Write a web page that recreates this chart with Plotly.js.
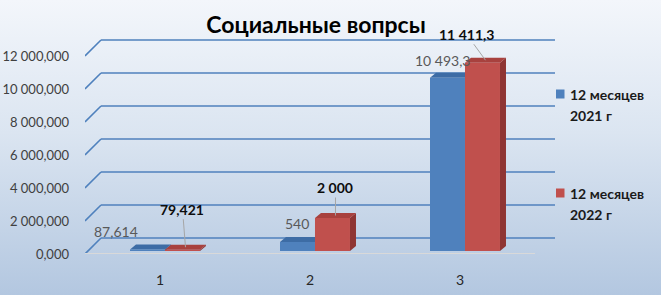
<!DOCTYPE html>
<html>
<head>
<meta charset="utf-8">
<script src="https://cdn.plot.ly/plotly-3.0.1.min.js"></script>
<style>
  html, body { margin: 0; padding: 0; }
  #chart { width: 661px; height: 295px; background: linear-gradient(to bottom, #f3f6fb 0%, #dbe5f1 45%, #b3c7e0 100%); }
</style>
</head>
<body>
<div id="chart"></div>
<script>
// ---- data ----
const categories = ['1', '2', '3'];
const seriesNames = ['12 месяцев<br>2021 г', '12 месяцев<br>2022 г'];
const values2021 = [87614, 540000, 10493300];
const values2022 = [79421, 2000000, 11411300];
const labels2021 = ['87,614', '540', '10 493,3'];
const labels2022 = ['79,421', '2 000', '11 411,3'];
const yTickVals = [0, 2000000, 4000000, 6000000, 8000000, 10000000, 12000000];
const yTickText = ['0,000', '2 000,000', '4 000,000', '6 000,000', '8 000,000', '10 000,000', '12 000,000'];

// ---- geometry / style ----
const W = 661, H = 295;
const M = {l: 85, r: 101, t: 28, b: 41};
const plotW = W - M.l - M.r, plotH = H - M.t - M.b;
const xRange = [-0.5, 2.6667];
const pxPerX = plotW / (xRange[1] - xRange[0]);
const pxPerY = 16.5 / 1e6;
const yMax = plotH / pxPerY;
const barLift = 3; // px the bar plane sits above the axis plane
const y2Max = (plotH - barLift) / pxPerY;
const barW = 0.2333;
const offsets = [-0.2, 0.0333];
const depthX = 6 / pxPerX, depthY = 5 / pxPerY;
const colors = ['#4f81bd', '#c0504d'];
const topColors = ['#3d6ca5', '#a8413e'];
const sideColors = ['#375f8f', '#8f3533'];
const gridColor = '#4f81bd';
const font = 'Lato, "Open Sans", "DejaVu Sans", sans-serif';
const xs = categories.map((c, i) => i);

const allValues = [values2021, values2022];

const traces = allValues.map((vals, s) => ({
  type: 'bar', x: xs, y: vals, name: seriesNames[s],
  width: barW, offset: offsets[s],
  marker: {color: colors[s], line: {width: 0}},
  xaxis: 'x', yaxis: 'y2', showlegend: false, hoverinfo: 'skip'
}));

const shapes = [];
// back-wall gridlines with perspective slant
yTickVals.forEach(v => {
  shapes.push({type: 'line', layer: 'below', xref: 'x', yref: 'y', xsizemode: 'pixel', ysizemode: 'pixel',
    xanchor: xRange[0], yanchor: v, x0: 0, x1: 16, y0: 0, y1: 16, line: {color: gridColor, width: 1.6}});
  shapes.push({type: 'line', layer: 'below', xref: 'x', yref: 'y', xsizemode: 'pixel', ysizemode: 'pixel',
    xanchor: xRange[0], yanchor: v, x0: 16, x1: 470, y0: 16, y1: 16, line: {color: gridColor, width: 1.6}});
});
// floor front edge
shapes.push({type: 'line', layer: 'below', xref: 'x', yref: 'y', x0: -0.5, x1: 2.5, y0: 0, y1: 0,
  line: {color: '#d9d9d9', width: 2}});
// 3D faces of bars
allValues.forEach((vals, s) => {
  vals.forEach((v, i) => {
    const xl = xs[i] + offsets[s], xr = xl + barW;
    shapes.push({type: 'path', layer: 'below', xref: 'x', yref: 'y2', line: {width: 0}, fillcolor: sideColors[s],
      path: `M${xr},0 L${xr + depthX},${depthY} L${xr + depthX},${v + depthY} L${xr},${v} Z`});
    shapes.push({type: 'path', layer: 'below', xref: 'x', yref: 'y2', line: {width: 0}, fillcolor: topColors[s],
      path: `M${xl},${v} L${xl + depthX},${v + depthY} L${xr + depthX},${v + depthY} L${xr},${v} Z`});
  });
});

const annotations = [];
// 2021 labels (grey, no leader)
const shifts2021 = [[-32, 18], [-1, 19], [-5, 17]];
values2021.forEach((v, i) => {
  annotations.push({xref: 'x', yref: 'y2', x: xs[i] + offsets[0] + barW / 2, y: v, text: labels2021[i],
    showarrow: false, xshift: shifts2021[i][0], yshift: shifts2021[i][1],
    font: {family: font, size: 14, color: '#595959'}});
});
// 2022 labels (bold, with leader lines)
const arrows2022 = [[-3, -38], [0, -28], [-19, -26]];
values2022.forEach((v, i) => {
  annotations.push({xref: 'x', yref: 'y2', x: xs[i] + offsets[1] + barW / 2 + depthX / 2, y: v + depthY / 2,
    text: '<b>' + labels2022[i] + '</b>', showarrow: true, arrowhead: 0, arrowwidth: 1, arrowcolor: '#a6a6a6',
    standoff: 0, ax: arrows2022[i][0], ay: arrows2022[i][1],
    font: {family: font, size: 14, color: '#0d0d0d'}});
});
// legend (built from series names)
const legendTop = [94, 193];
seriesNames.forEach((name, s) => {
  const cy = legendTop[s];
  shapes.push({type: 'rect', xref: 'paper', yref: 'paper', line: {width: 0}, fillcolor: colors[s],
    x0: (556 - M.l) / plotW, x1: (564.5 - M.l) / plotW,
    y0: (H - M.b - (cy + 4.5)) / plotH, y1: (H - M.b - (cy - 4.5)) / plotH});
  name.split('<br>').forEach((line, k) => {
    annotations.push({xref: 'paper', yref: 'paper', x: (568 - M.l) / plotW, y: (H - M.b - (cy + k * 21)) / plotH,
      xanchor: 'left', yanchor: 'middle', showarrow: false, text: '<b>' + line + '</b>',
      font: {family: font, size: 14, color: '#1a1a1a'}});
  });
});

const layout = {
  width: W, height: H,
  margin: M,
  paper_bgcolor: 'rgba(0,0,0,0)', plot_bgcolor: 'rgba(0,0,0,0)',
  title: {text: '<b>Социальные вопрсы</b>', font: {family: font, size: 23, color: '#000'},
    xref: 'paper', x: (316 - M.l) / plotW, xanchor: 'center', yref: 'container', y: 1 - 25 / H, yanchor: 'middle'},
  showlegend: false,
  barmode: 'group',
  xaxis: {type: 'linear', range: xRange, tickvals: xs, ticktext: categories, showgrid: false, zeroline: false,
    showline: false, ticks: '', ticklabelstandoff: 16, tickfont: {family: font, size: 14, color: '#262626'},
    fixedrange: true},
  yaxis: {range: [0, yMax], tickvals: yTickVals, ticktext: yTickText, showgrid: false, zeroline: false,
    showline: false, ticks: '', ticklabelstandoff: 15, tickfont: {family: font, size: 13, color: '#404040'},
    fixedrange: true},
  yaxis2: {domain: [barLift / plotH, 1], range: [0, y2Max], anchor: 'x', visible: false, showgrid: false,
    zeroline: false, fixedrange: true},
  shapes: shapes,
  annotations: annotations
};

Plotly.newPlot('chart', traces, layout, {displayModeBar: false, staticPlot: true});
</script>
</body>
</html>
